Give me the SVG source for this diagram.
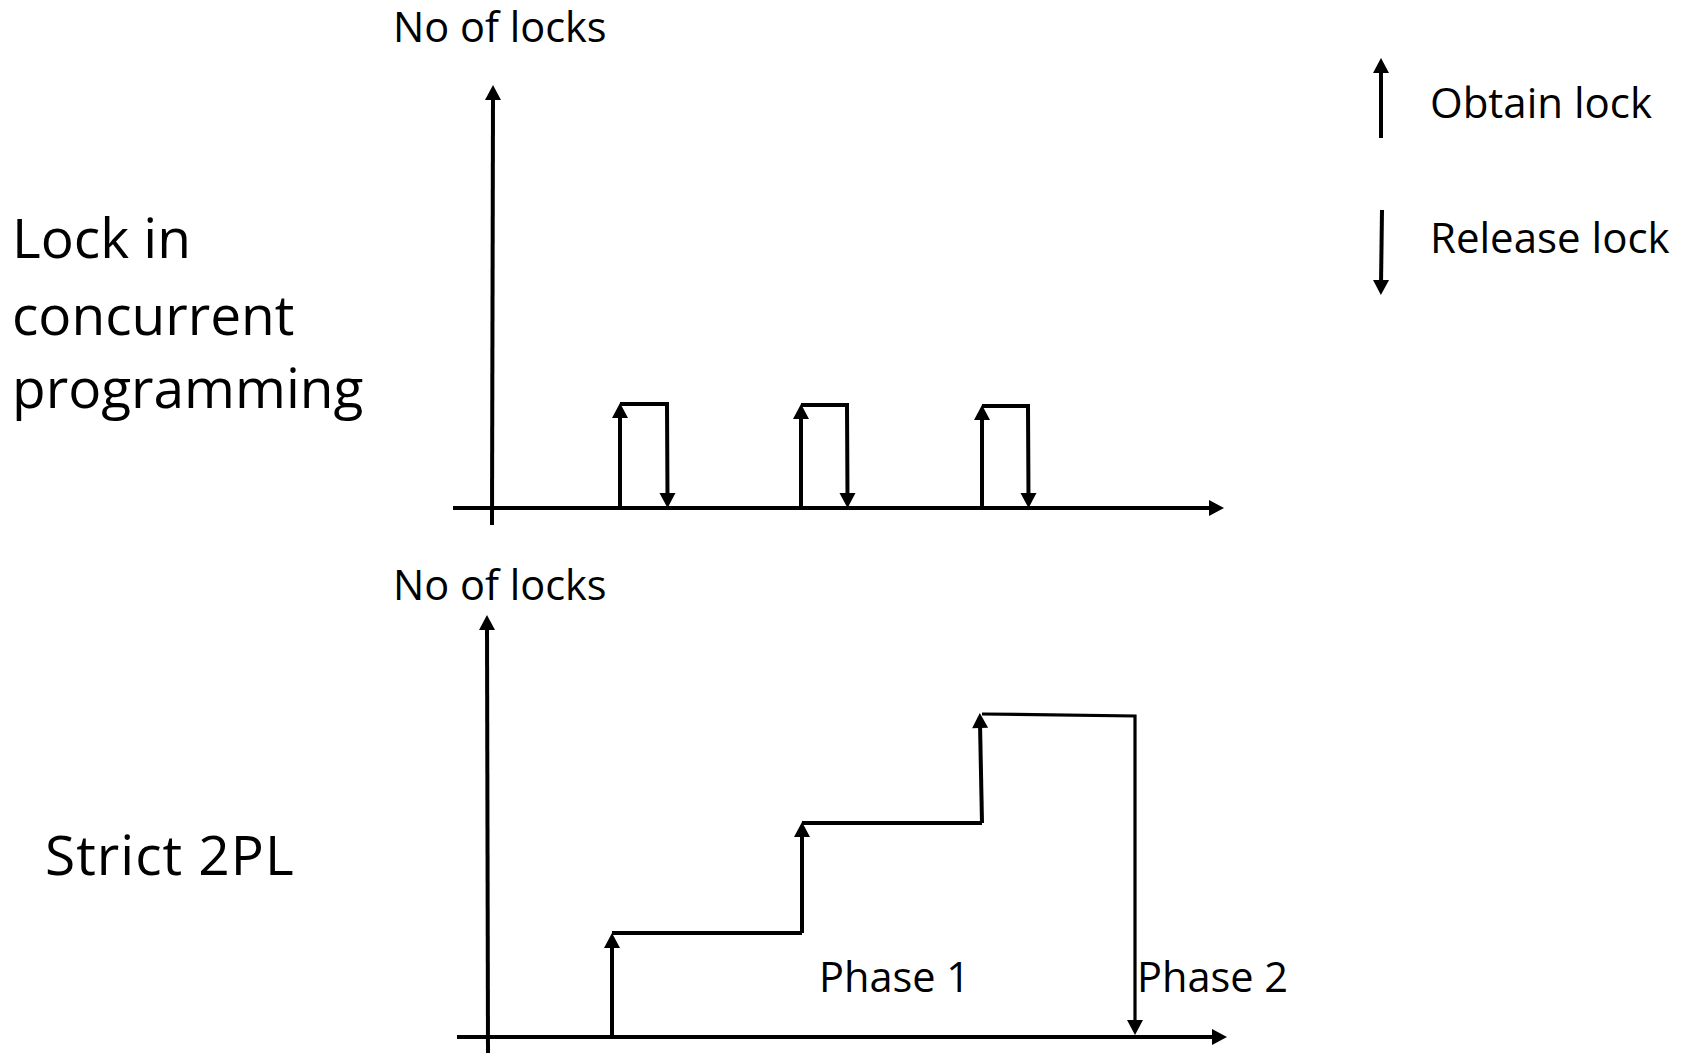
<svg xmlns="http://www.w3.org/2000/svg" width="1687" height="1053" viewBox="0 0 1687 1053">
  <style>
    .t { font-family: "Open Sans", "Noto Sans", sans-serif; fill: #000; }
    .s { font-size: 41.5px; }
    .lg { font-size: 42px; }
    .big { font-size: 55px; }
    .ln { fill: none; stroke: #000; stroke-width: 4; stroke-linejoin: miter; }
    .thin { stroke-width: 3.2; }
  </style>
  <defs>
    <marker id="ah" markerUnits="userSpaceOnUse" markerWidth="16" markerHeight="16" refX="5" refY="8" orient="auto" overflow="visible">
      <path d="M0,0 L15,8 L0,16 Z" fill="#000"/>
    </marker>
  </defs>
  <rect width="1687" height="1053" fill="#fff"/>

  <!-- titles -->
  <g id="title-concurrent">
    <text class="t big" x="12" y="258">Lock in</text>
    <text class="t big" x="12" y="335">concurrent</text>
    <text class="t big" x="12" y="408">programming</text>
  </g>
  <g id="title-strict">
    <text class="t big" x="45" y="875" letter-spacing="1">Strict 2PL</text>
  </g>

  <!-- legend -->
  <g id="legend">
    <line class="ln" x1="1381" y1="138" x2="1381" y2="68" marker-end="url(#ah)"/>
    <text class="t lg" x="1430" y="118">Obtain lock</text>
    <line class="ln" x1="1382" y1="210" x2="1381" y2="285" marker-end="url(#ah)"/>
    <text class="t lg" x="1430" y="253">Release lock</text>
  </g>

  <!-- top chart -->
  <g id="chart-concurrent">
    <text class="t s" x="393" y="42">No of locks</text>
    <g id="top-axes">
      <line class="ln" x1="492" y1="525" x2="493" y2="95" marker-end="url(#ah)"/>
      <line class="ln" x1="453" y1="508" x2="1214" y2="508" marker-end="url(#ah)"/>
    </g>
    <g id="pulses">
      <line class="ln" x1="620" y1="508" x2="620" y2="413" marker-end="url(#ah)"/>
      <path class="ln" d="M620,404 L667,404 L667.5,498" marker-end="url(#ah)"/>
      <line class="ln" x1="801" y1="508" x2="801" y2="414" marker-end="url(#ah)"/>
      <path class="ln" d="M801,405 L847,405 L847.5,498" marker-end="url(#ah)"/>
      <line class="ln" x1="982" y1="508" x2="982" y2="415" marker-end="url(#ah)"/>
      <path class="ln" d="M982,406 L1028,406 L1028.5,498" marker-end="url(#ah)"/>
    </g>
  </g>

  <!-- bottom chart -->
  <g id="chart-strict">
    <text class="t s" x="393" y="600">No of locks</text>
    <g id="bottom-axes">
      <line class="ln" x1="488" y1="1053" x2="487" y2="625" marker-end="url(#ah)"/>
      <line class="ln" x1="457" y1="1037" x2="1217" y2="1037" marker-end="url(#ah)"/>
    </g>
    <g id="steps">
      <line class="ln" x1="612" y1="1037" x2="612" y2="943" marker-end="url(#ah)"/>
      <path class="ln" d="M612,933 L802,933"/>
      <line class="ln" x1="802" y1="933" x2="802" y2="832" marker-end="url(#ah)"/>
      <path class="ln" d="M802,823 L982,823"/>
      <line class="ln" x1="982" y1="823" x2="980" y2="723" marker-end="url(#ah)"/>
      <path class="ln thin" d="M982,714 L1135,716 L1135,1025" marker-end="url(#ah)"/>
    </g>
    <text class="t s" x="819" y="992">Phase 1</text>
    <text class="t s" x="1137" y="992">Phase 2</text>
  </g>
</svg>
